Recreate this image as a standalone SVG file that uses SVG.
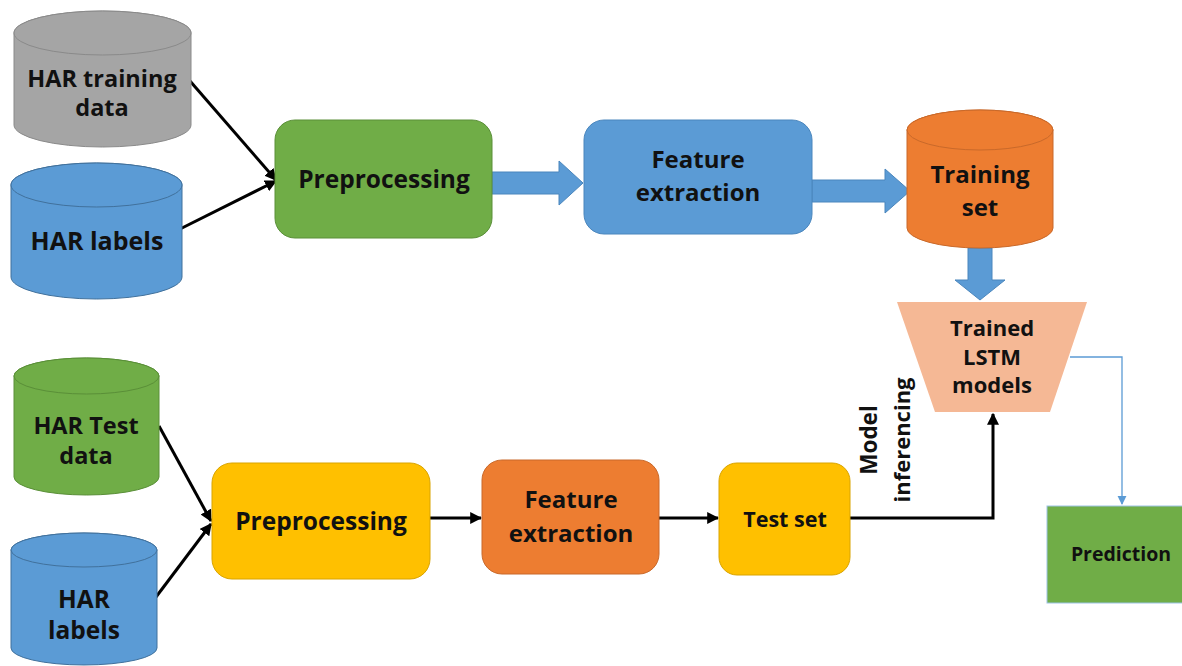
<svg xmlns="http://www.w3.org/2000/svg" width="1182" height="666" viewBox="0 0 1182 666">
<defs>
<style>
.t{font-family:"Open Sans","Noto Sans","Liberation Sans",sans-serif;font-weight:bold;fill:#111;text-anchor:middle}
.blk{fill:none;stroke:#000;stroke-width:3}
.barrow{fill:#5B9BD5;stroke:#4a86bd;stroke-width:1}
</style>
<marker id="ah" viewBox="0 0 10 10" refX="9" refY="5" markerWidth="4" markerHeight="4" orient="auto" markerUnits="strokeWidth">
<path d="M0,0 L10,5 L0,10 Z" fill="#000"/>
</marker>
<marker id="ahb" viewBox="0 0 10 10" refX="9" refY="5" markerWidth="7" markerHeight="7" orient="auto" markerUnits="strokeWidth">
<path d="M0,0 L10,5 L0,10 Z" fill="#5B9BD5"/>
</marker>
</defs>
<rect width="1182" height="666" fill="#fff"/>

<g id="connectors">
<line class="blk" x1="190" y1="81" x2="276" y2="180" marker-end="url(#ah)"/>
<line class="blk" x1="180" y1="229" x2="276" y2="181" marker-end="url(#ah)"/>
<polygon class="barrow" points="492,172 559,172 559,161 583,183 559,205 559,194 492,194"/>
<polygon class="barrow" points="812,180 885,180 885,169 910,191 885,213 885,202 812,202"/>
<polygon class="barrow" points="968,248 992,248 992,280 1005,280 980,300 955,280 968,280"/>
<path d="M1070,357 H1122 V504" fill="none" stroke="#5B9BD5" stroke-width="1.3" marker-end="url(#ahb)"/>
<line class="blk" x1="159" y1="426" x2="211" y2="521" marker-end="url(#ah)"/>
<line class="blk" x1="156" y1="597" x2="211" y2="524" marker-end="url(#ah)"/>
<line class="blk" x1="430" y1="518" x2="481" y2="518" marker-end="url(#ah)"/>
<line class="blk" x1="659" y1="518" x2="718" y2="518" marker-end="url(#ah)"/>
<path class="blk" d="M850,518 H993 V414" marker-end="url(#ah)"/>
</g>

<g id="har-training-data">
<path d="M14,33 V125 A88.5,22 0 0 0 191,125 V33 A88.5,22 0 0 0 14,33 Z" fill="#A5A5A5" stroke="#8a8a8a" stroke-width="1"/>
<ellipse cx="102.5" cy="33" rx="88.5" ry="22" fill="#A5A5A5" stroke="#8a8a8a" stroke-width="1"/>
<text class="t" x="102" y="87" font-size="23.5">HAR training</text>
<text class="t" x="102" y="116" font-size="23.5">data</text>
</g>

<g id="har-labels-1">
<path d="M11,185 V277 A85.5,22 0 0 0 182,277 V185 A85.5,22 0 0 0 11,185 Z" fill="#5B9BD5" stroke="#41719C" stroke-width="1"/>
<ellipse cx="96.5" cy="185" rx="85.5" ry="22" fill="#5B9BD5" stroke="#41719C" stroke-width="1"/>
<text class="t" x="97" y="250" font-size="25">HAR labels</text>
</g>

<g id="preprocessing-1">
<rect x="275" y="120" width="217" height="118" rx="20" fill="#70AD47" stroke="#5a8f38" stroke-width="1"/>
<text class="t" x="384" y="188" font-size="24.5">Preprocessing</text>
</g>

<g id="feature-extraction-1">
<rect x="584" y="120" width="228" height="114" rx="20" fill="#5B9BD5" stroke="#4a86bd" stroke-width="1"/>
<text class="t" x="698" y="168" font-size="24">Feature</text>
<text class="t" x="698" y="201" font-size="24">extraction</text>
</g>

<g id="training-set">
<path d="M907,130 V228 A73,20 0 0 0 1053,228 V130 A73,20 0 0 0 907,130 Z" fill="#ED7D31" stroke="#c9692a" stroke-width="1"/>
<ellipse cx="980" cy="130" rx="73" ry="20" fill="#ED7D31" stroke="#c9692a" stroke-width="1"/>
<text class="t" x="980" y="183" font-size="24">Training</text>
<text class="t" x="980" y="216" font-size="24">set</text>
</g>

<g id="trained-lstm-models">
<polygon points="897,302 1087,302 1050,412 935,412" fill="#F5B895"/>
<text class="t" x="992" y="336" font-size="22">Trained</text>
<text class="t" x="992" y="365" font-size="22">LSTM</text>
<text class="t" x="992" y="393" font-size="22">models</text>
</g>

<g id="prediction">
<rect x="1047" y="506" width="140" height="97" fill="#70AD47" stroke="#9dc3e6" stroke-width="1"/>
<text class="t" x="1121" y="561" font-size="19.5">Prediction</text>
</g>

<g id="har-test-data">
<path d="M14,376 V477 A72.5,18 0 0 0 159,477 V376 A72.5,18 0 0 0 14,376 Z" fill="#70AD47" stroke="#5a8f38" stroke-width="1"/>
<ellipse cx="86.5" cy="376" rx="72.5" ry="18" fill="#70AD47" stroke="#5a8f38" stroke-width="1"/>
<text class="t" x="86" y="434" font-size="23.5">HAR Test</text>
<text class="t" x="86" y="464" font-size="23.5">data</text>
</g>

<g id="har-labels-2">
<path d="M11,550 V648 A73,17 0 0 0 157,648 V550 A73,17 0 0 0 11,550 Z" fill="#5B9BD5" stroke="#41719C" stroke-width="1"/>
<ellipse cx="84" cy="550" rx="73" ry="17" fill="#5B9BD5" stroke="#41719C" stroke-width="1"/>
<text class="t" x="84" y="608" font-size="24.5">HAR</text>
<text class="t" x="84" y="639" font-size="24.5">labels</text>
</g>

<g id="preprocessing-2">
<rect x="212" y="463" width="218" height="116" rx="20" fill="#FFC000" stroke="#d9a400" stroke-width="1"/>
<text class="t" x="321" y="530" font-size="24.5">Preprocessing</text>
</g>

<g id="feature-extraction-2">
<rect x="482" y="460" width="177" height="114" rx="20" fill="#ED7D31" stroke="#c9692a" stroke-width="1"/>
<text class="t" x="571" y="508" font-size="24">Feature</text>
<text class="t" x="571" y="542" font-size="24">extraction</text>
</g>

<g id="test-set">
<rect x="719" y="463" width="131" height="112" rx="18" fill="#FFC000" stroke="#d9a400" stroke-width="1"/>
<text class="t" x="785" y="527" font-size="21.5">Test set</text>
</g>

<g id="model-inferencing-label">
<text class="t" font-size="22.5" transform="translate(877,440) rotate(-90)">Model</text>
<text class="t" font-size="22" transform="translate(910,440) rotate(-90)">inferencing</text>
</g>
</svg>
